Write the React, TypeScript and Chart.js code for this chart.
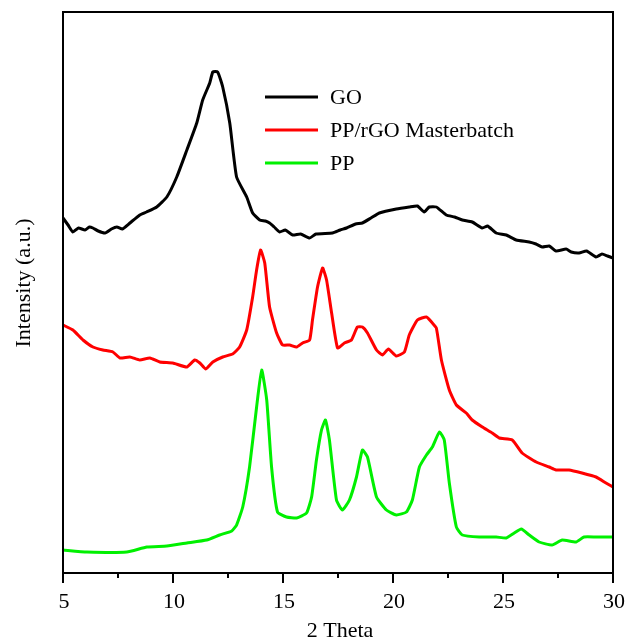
import React, { useEffect, useRef } from "react";
import { Chart, registerables } from "chart.js";

Chart.register(...registerables);

const seriesLabels = ["GO", "PP/rGO Masterbatch", "PP"];
const seriesColors = ["#000000", "#ff0000", "#00f000"];

const goX = [5.0, 5.23, 5.45, 5.7, 6.0, 6.2, 6.36, 6.6, 6.91, 7.2, 7.45, 7.7, 8.04, 8.49, 8.8, 9.26, 9.72, 10.17, 10.63, 11.08, 11.35, 11.67, 11.81, 12.03, 12.26, 12.58, 12.89, 13.35, 13.62, 13.94, 14.2, 14.39, 14.6, 14.85, 15.1, 15.44, 15.8, 16.21, 16.5, 17.25, 17.6, 17.89, 18.3, 18.61, 19.0, 19.38, 20.15, 20.74, 21.11, 21.42, 21.65, 21.97, 22.42, 22.8, 23.15, 23.6, 24.06, 24.3, 24.69, 25.15, 25.6, 26.19, 26.5, 26.78, 27.1, 27.41, 27.87, 28.1, 28.46, 28.8, 29.23, 29.5, 29.75, 30.0];
const goY = [355, 348, 341, 345, 343, 346, 345, 342, 340, 344, 346, 344, 350, 358, 361, 366, 376, 396, 423, 450, 473, 490, 501, 501, 486, 450, 396, 376, 360, 353, 352, 350, 346, 341, 343, 338, 339, 335, 339, 340, 343, 345, 349, 350, 355, 360, 364, 366, 367, 361, 366, 366, 358, 356, 353, 351, 345, 347, 340, 338, 333, 331, 329, 326, 327, 322, 324, 321, 320, 322, 316, 319, 317, 315];

const rgoX = [5.0, 5.45, 5.91, 6.36, 6.81, 7.27, 7.59, 8.04, 8.49, 8.95, 9.4, 9.99, 10.63, 10.99, 11.22, 11.49, 11.81, 12.26, 12.71, 13.03, 13.35, 13.62, 13.8, 13.98, 14.17, 14.39, 14.71, 14.98, 15.3, 15.62, 15.89, 16.21, 16.34, 16.57, 16.8, 16.98, 17.21, 17.48, 17.79, 18.11, 18.38, 18.61, 18.84, 19.25, 19.52, 19.79, 20.15, 20.52, 20.74, 21.11, 21.52, 21.79, 21.97, 22.2, 22.56, 22.88, 23.33, 23.6, 24.06, 24.51, 24.83, 25.42, 25.87, 26.51, 27.1, 27.41, 28.0, 28.59, 29.23, 29.68, 30.0];
const rgoY = [248, 243, 233, 226, 223, 221, 215, 216, 213, 215, 211, 210, 206, 213, 210, 204, 211, 216, 219, 226, 243, 276, 303, 323, 310, 266, 240, 228, 228, 226, 230, 233, 253, 286, 305, 293, 260, 225, 230, 233, 246, 246, 240, 223, 218, 224, 217, 221, 238, 253, 256, 250, 245, 213, 183, 168, 160, 153, 146, 140, 135, 133, 120, 111, 106, 103, 103, 100, 96, 90, 86];

const ppX = [5.0, 6.09, 7.9, 8.81, 9.72, 10.63, 11.53, 12.12, 12.67, 12.89, 13.17, 13.48, 13.8, 14.03, 14.26, 14.48, 14.75, 15.16, 15.62, 16.07, 16.3, 16.52, 16.75, 16.93, 17.11, 17.43, 17.7, 18.02, 18.34, 18.61, 18.84, 19.25, 19.7, 20.15, 20.61, 20.88, 21.2, 21.52, 21.79, 22.11, 22.33, 22.56, 22.88, 23.15, 23.92, 24.69, 25.15, 25.51, 25.83, 26.19, 26.64, 27.23, 27.69, 28.32, 28.68, 29.23, 30.0];
const ppY = [23, 21, 21, 26, 27, 30, 33, 38, 42, 48, 66, 106, 166, 203, 173, 106, 61, 56, 55, 60, 76, 113, 143, 153, 133, 73, 63, 73, 96, 123, 116, 76, 63, 58, 61, 73, 106, 118, 126, 141, 133, 90, 46, 38, 36, 36, 35, 40, 44, 38, 31, 28, 33, 31, 36, 36, 36];

const majorTicks = [5, 10, 15, 20, 25, 30];
const minorTicks = [7.5, 12.5, 17.5, 22.5, 27.5];
const xTitle = "2 Theta";
const yTitle = "Intensity (a.u.)";

const FONT = '22px "Liberation Serif", "Times New Roman", serif';

const decorPlugin = {
  id: "decor",
  afterDraw(chart: any) {
    const { ctx, chartArea, scales } = chart;
    const xs = scales.x;
    const { left, right, top, bottom } = chartArea;
    ctx.save();
    ctx.strokeStyle = "#000";
    ctx.lineWidth = 2;
    ctx.strokeRect(left, top, right - left, bottom - top);
    majorTicks.forEach((v) => {
      const px = xs.getPixelForValue(v);
      ctx.beginPath();
      ctx.moveTo(px, bottom);
      ctx.lineTo(px, bottom + 10);
      ctx.stroke();
    });
    minorTicks.forEach((v) => {
      const px = xs.getPixelForValue(v);
      ctx.beginPath();
      ctx.moveTo(px, bottom);
      ctx.lineTo(px, bottom + 5);
      ctx.stroke();
    });
    ctx.fillStyle = "#000";
    ctx.font = FONT;
    ctx.textAlign = "center";
    ctx.textBaseline = "alphabetic";
    majorTicks.forEach((v) => {
      const px = xs.getPixelForValue(v);
      ctx.fillText(String(v), px + 1, bottom + 35);
    });
    ctx.textBaseline = "middle";
    ctx.fillText(xTitle, (left + right) / 2 + 2, bottom + 58);
    ctx.save();
    ctx.translate(24, 283);
    ctx.rotate(-Math.PI / 2);
    ctx.fillText(yTitle, 0, 0);
    ctx.restore();
    ctx.textAlign = "left";
    ctx.lineWidth = 3;
    seriesLabels.forEach((lab, i) => {
      const y = top + 85 + i * 33;
      ctx.strokeStyle = seriesColors[i];
      ctx.beginPath();
      ctx.moveTo(left + 202, y);
      ctx.lineTo(left + 255, y);
      ctx.stroke();
      ctx.fillStyle = "#000";
      ctx.fillText(lab, left + 267, y + 1);
    });
    ctx.restore();
  },
};

function pts(xs: number[], ys: number[]) {
  return xs.map((x, i) => ({ x, y: ys[i] }));
}

export default function App() {
  const ref = useRef<HTMLCanvasElement>(null);
  useEffect(() => {
    document.body.style.margin = "0";
    const chart = new Chart(ref.current!, {
      type: "line",
      data: {
        datasets: [
          { label: seriesLabels[0], data: pts(goX, goY), borderColor: seriesColors[0] },
          { label: seriesLabels[1], data: pts(rgoX, rgoY), borderColor: seriesColors[1] },
          { label: seriesLabels[2], data: pts(ppX, ppY), borderColor: seriesColors[2] },
        ].map((d) => ({
          ...d,
          borderWidth: 3,
          pointRadius: 0,
          fill: false,
          tension: 0.15,
          borderJoinStyle: "round" as const,
        })),
      },
      options: {
        animation: false,
        responsive: false,
        maintainAspectRatio: false,
        layout: { padding: { left: 63, right: 14, top: 12, bottom: 68 } },
        plugins: { legend: { display: false }, tooltip: { enabled: false } },
        scales: {
          x: { type: "linear", min: 5, max: 30, display: false },
          y: { type: "linear", min: 0, max: 561, display: false },
        },
      },
      plugins: [decorPlugin],
    });
    return () => chart.destroy();
  }, []);
  return (
    <div style={{ position: "absolute", left: 0, top: 0, width: 627, height: 641 }}>
      <canvas ref={ref} width={627} height={641} style={{ width: 627, height: 641 }} />
    </div>
  );
}
